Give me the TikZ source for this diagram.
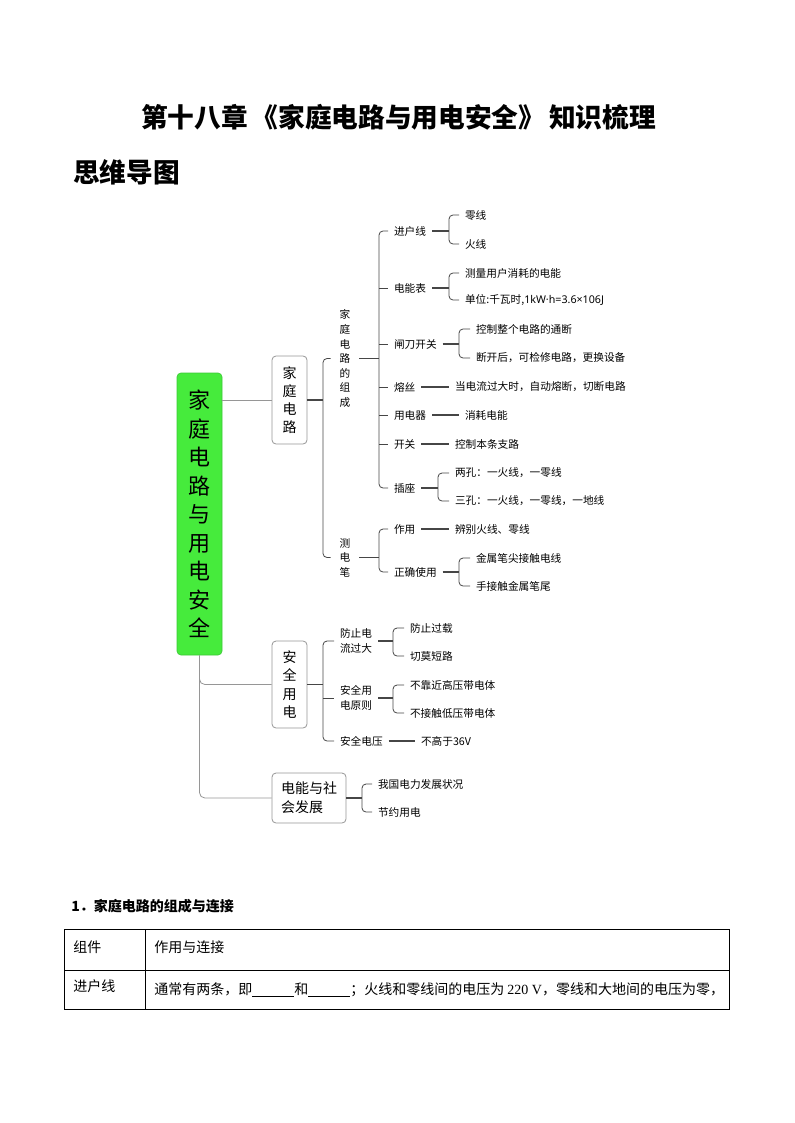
\documentclass[tikz,border=0pt]{standalone}
\usepackage{fontspec}
\setmainfont{Noto Sans CJK SC}
\newfontfamily\serifl{Liberation Serif}
\newfontfamily\latinsans{Noto Sans}
\definecolor{rootgreen}{RGB}{70,235,60}
\definecolor{rootedge}{RGB}{60,200,55}
\definecolor{boxgray}{RGB}{150,150,150}
\definecolor{linkdark}{RGB}{70,70,70}
\definecolor{rootline}{RGB}{150,150,150}
\tikzset{
  rootbox/.style={fill=rootgreen, draw=rootedge, line width=0.5pt, rounded corners=3pt,
    minimum width=33.75pt, minimum height=211.5pt, inner sep=0pt, align=center,
    font=\fontsize{16.5}{21.4}\selectfont},
  subbox/.style={draw=boxgray, line width=0.6pt, rounded corners=3pt, inner sep=0pt,
    fill=white, font=\fontsize{10.5}{13.6}\selectfont},
  lbl/.style={inner sep=0pt, outer xsep=4.5pt, anchor=west, align=left,
    font=\fontsize{8}{11.25}\selectfont},
  vlbl/.style={inner sep=0pt, outer xsep=6.75pt, align=center,
    font=\fontsize{8}{10.9}\selectfont},
  link/.style={draw=linkdark, line width=0.8pt},
  brk/.style={draw=linkdark, line width=0.6pt, rounded corners=3pt},
  rootlink/.style={draw=rootline, line width=0.6pt, rounded corners=4pt},
  tbl/.style={inner sep=0pt, anchor=west, font=\fontsize{10.5}{13}\selectfont},
}
\newcommand\blank{\rule[-1.5pt]{31.5pt}{0.5pt}}
\begin{document}
\begin{tikzpicture}[x=0.75pt,y=-0.75pt]
\useasboundingbox (0,0) rectangle (794,1123);

% titles
\node[font=\fontsize{20}{24}\selectfont\bfseries] (title) at (398.5,117.5) {第十八章\hspace{3pt}《家庭电路与用电安全》\hspace{3pt}知识梳理};
\node[font=\fontsize{20}{24}\selectfont\bfseries, anchor=west, inner sep=0pt] (sub) at (73,172) {思维导图};

% root and first level
\node[rootbox] (root) at (199.5,514) {家\\庭\\电\\路\\与\\用\\电\\安\\全};
\node[subbox, minimum width=26.25pt, minimum height=66pt, align=center] (b1) at (289.5,400) {家\\庭\\电\\路};
\node[subbox, minimum width=26.25pt, minimum height=65.25pt, align=center] (b2) at (289.5,684.5) {安\\全\\用\\电};
\node[subbox, minimum width=55.5pt, minimum height=37.5pt, align=left, font=\fontsize{10.5}{14.25}\selectfont] (b3) at (309,798) {电能与社\\会发展};

\draw[rootlink] (b1.west -| root.east) -- (b1.west);
\draw[rootlink] (root.south) |- (b2.west);
\draw[rootlink] (root.south) |- (b3.west);

% second level under b1
\node[vlbl] (t1) at (345,358.5) {家\\庭\\电\\路\\的\\组\\成};
\node[vlbl] (t2) at (345,557.5) {测\\电\\笔};
\coordinate (k0) at (323,400);
\draw[link] (b1.east) -- (k0);
\draw[brk] (t1.west) -- (t1.west -| k0) -- (t2.west -| k0) -- (t2.west);

% components
\node[lbl] (c1) at (388,231) {进户线};
\node[lbl] (c2) at (388,288) {电能表};
\node[lbl] (c3) at (388,344) {闸刀开关};
\node[lbl] (c4) at (388,387) {熔丝};
\node[lbl] (c5) at (388,415) {用电器};
\node[lbl] (c6) at (388,444) {开关};
\node[lbl] (c7) at (388,488) {插座};
\coordinate (k1) at (379,357);
\draw[link] (t1.east) -- (t1.east -| k1);
\draw[brk] (c1.west) -- (c1.west -| k1) -- (c7.west -| k1) -- (c7.west);
\foreach \n in {c2,c3,c4,c5,c6} \draw[brk] (\n.west -| k1) -- (\n.west);

% leaves of components
\node[lbl] (l11) at (459,215) {零线};
\node[lbl] (l12) at (459,244) {火线};
\node[lbl] (l21) at (459,273) {测量用户消耗的电能};
\node[lbl] (l22) at (459,300) {单位:千瓦时,{\latinsans 1kW·h=3.6×106J}};
\node[lbl] (l31) at (470,329) {控制整个电路的通断};
\node[lbl] (l32) at (470,358) {断开后，可检修电路，更换设备};
\node[lbl] (l4) at (449,387) {当电流过大时，自动熔断，切断电路};
\node[lbl] (l5) at (459,415) {消耗电能};
\node[lbl] (l6) at (449,444) {控制本条支路};
\node[lbl] (l71) at (449,473) {两孔：一火线，一零线};
\node[lbl] (l72) at (449,501) {三孔：一火线，一零线，一地线};

\coordinate (k11) at (449,231);
\coordinate (k12) at (449,288);
\coordinate (k13) at (459,344);
\coordinate (k17) at (438,488);
\draw[link] (c1.east) -- (c1.east -| k11);
\draw[brk] (l11.west) -- (l11.west -| k11) -- (l12.west -| k11) -- (l12.west);
\draw[link] (c2.east) -- (c2.east -| k12);
\draw[brk] (l21.west) -- (l21.west -| k12) -- (l22.west -| k12) -- (l22.west);
\draw[link] (c3.east) -- (c3.east -| k13);
\draw[brk] (l31.west) -- (l31.west -| k13) -- (l32.west -| k13) -- (l32.west);
\draw[link] (c4.east) -- (l4.west);
\draw[link] (c5.east) -- (l5.west);
\draw[link] (c6.east) -- (l6.west);
\draw[link] (c7.east) -- (c7.east -| k17);
\draw[brk] (l71.west) -- (l71.west -| k17) -- (l72.west -| k17) -- (l72.west);

% test pen
\node[lbl] (d1) at (388,529) {作用};
\node[lbl] (d2) at (388,572) {正确使用};
\coordinate (k2) at (379,557);
\draw[link] (t2.east) -- (t2.east -| k2);
\draw[brk] (d1.west) -- (d1.west -| k2) -- (d2.west -| k2) -- (d2.west);
\node[lbl] (m1) at (449,529) {辨别火线、零线};
\node[lbl] (m21) at (470,558) {金属笔尖接触电线};
\node[lbl] (m22) at (470,586) {手接触金属笔尾};
\coordinate (k22) at (459,572);
\draw[link] (d1.east) -- (m1.west);
\draw[link] (d2.east) -- (d2.east -| k22);
\draw[brk] (m21.west) -- (m21.west -| k22) -- (m22.west -| k22) -- (m22.west);

% safety
\node[lbl] (e1) at (334,641) {防止电\\流过大};
\node[lbl] (e2) at (334,698) {安全用\\电原则};
\node[lbl] (e3) at (334,741) {安全电压};
\coordinate (k3) at (323,684);
\draw[link] (b2.east) -- (b2.east -| k3);
\draw[brk] (e1.west) -- (e1.west -| k3) -- (e3.west -| k3) -- (e3.west);
\draw[brk] (e2.west -| k3) -- (e2.west);

\node[lbl] (f11) at (404,628) {防止过载};
\node[lbl] (f12) at (404,656) {切莫短路};
\node[lbl] (f21) at (404,685) {不靠近高压带电体};
\node[lbl] (f22) at (404,713) {不接触低压带电体};
\node[lbl] (f3) at (415,741) {不高于36V};
\coordinate (k31) at (393,641);
\coordinate (k32) at (393,698);
\draw[link] (e1.east) -- (e1.east -| k31);
\draw[brk] (f11.west) -- (f11.west -| k31) -- (f12.west -| k31) -- (f12.west);
\draw[link] (e2.east) -- (e2.east -| k32);
\draw[brk] (f21.west) -- (f21.west -| k32) -- (f22.west -| k32) -- (f22.west);
\draw[link] (e3.east) -- (f3.west);

% society
\node[lbl] (g1) at (372,784) {我国电力发展状况};
\node[lbl] (g2) at (372,812) {节约用电};
\coordinate (k4) at (362,797);
\draw[link] (b3.east) -- (b3.east -| k4);
\draw[brk] (g1.west) -- (g1.west -| k4) -- (g2.west -| k4) -- (g2.west);

% section and table
\node[tbl, font=\fontsize{10.5}{13}\selectfont\bfseries] (sec) at (71,906) {1．家庭电路的组成与连接};
\draw[line width=0.75pt] (64,929) rectangle (729,1009);
\draw[line width=0.75pt] (64,970) -- (729,970);
\draw[line width=0.75pt] (145,929) -- (145,1009);
\node[tbl] (h1) at (73,947) {组件};
\node[tbl] (h2) at (154,947) {作用与连接};
\node[tbl] (r1) at (73,986) {进户线};
\node[tbl] (r2) at (154,990) {通常有两条，即\blank 和\blank ；火线和零线间的电压为 {\serifl 220 V}，零线和大地间的电压为零，};
\end{tikzpicture}
\end{document}
